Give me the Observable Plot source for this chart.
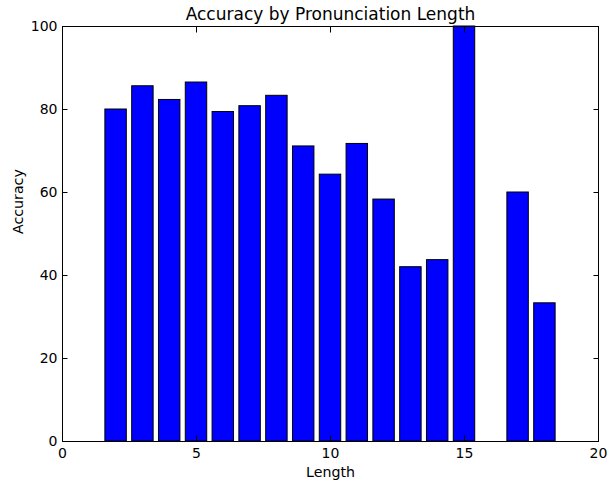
<!DOCTYPE html>
<html>
<head>
<meta charset="utf-8">
<script src="https://cdn.jsdelivr.net/npm/d3@7"></script>
<script src="https://cdn.jsdelivr.net/npm/@observablehq/plot@0.6"></script>
<style>
  html, body { margin: 0; padding: 0; background: #ffffff; }
  #chart svg { display: block; }
</style>
</head>
<body>
<div id="chart"></div>
<script>
const lengths = [2, 3, 4, 5, 6, 7, 8, 9, 10, 11, 12, 13, 14, 15, 16, 17, 18];
const accuracy = [80.0, 85.6, 82.3, 86.5, 79.4, 80.8, 83.3, 71.1, 64.3, 71.7, 58.3, 42.0, 43.7, 100.0, 0.0, 60.0, 33.3];
const xTicks = [0, 5, 10, 15, 20];
const yTicks = [0, 20, 40, 60, 80, 100];
const titleText = "Accuracy by Pronunciation Length";
const xLabelText = "Length";
const yLabelText = "Accuracy";
const barWidth = 0.8;

const data = lengths.map((l, i) => ({length: l, accuracy: accuracy[i]}));

const font = "DejaVu Sans";
const tickFont = 14;
const tick = 5.5;

const chart = Plot.plot({
  width: 615,
  height: 483,
  marginTop: 26,
  marginBottom: 42,
  marginLeft: 62,
  marginRight: 17,
  style: {fontFamily: font, fontSize: tickFont + "px", background: "#ffffff", color: "#000000"},
  x: {type: "linear", domain: [0, 20]},
  y: {type: "linear", domain: [0, 100]},
  marks: [
    Plot.rectY(data, {
      x1: d => d.length - barWidth / 2,
      x2: d => d.length + barWidth / 2,
      y1: 0,
      y2: "accuracy",
      fill: "#0000ff",
      stroke: "#000000",
      strokeWidth: 1
    }),
    Plot.frame({stroke: "#000000", strokeWidth: 1}),
    Plot.axisX(xTicks, {anchor: "bottom", tickSize: -tick, tickPadding: 6.5 + tick, label: null, fontSize: tickFont, stroke: "#000000", fill: "#000000"}),
    Plot.axisX(xTicks, {anchor: "top", tickSize: -tick, tickFormat: () => "", label: null, stroke: "#000000"}),
    Plot.axisY(yTicks, {anchor: "left", tickSize: -tick, tickPadding: 5 + tick, label: null, fontSize: tickFont, stroke: "#000000", fill: "#000000"}),
    Plot.axisY(yTicks, {anchor: "right", tickSize: -tick, tickFormat: () => "", label: null, stroke: "#000000"}),
    Plot.text([titleText], {frameAnchor: "top", lineAnchor: "bottom", dy: -6.5, fontSize: 17, fill: "#000000"}),
    Plot.text([xLabelText], {frameAnchor: "bottom", lineAnchor: "bottom", dy: 35, fontSize: 14.2, fill: "#000000"}),
    Plot.text([yLabelText], {frameAnchor: "left", lineAnchor: "middle", rotate: -90, dx: -44, fontSize: 14.2, fill: "#000000"})
  ]
});

document.getElementById("chart").appendChild(chart);
</script>
</body>
</html>
